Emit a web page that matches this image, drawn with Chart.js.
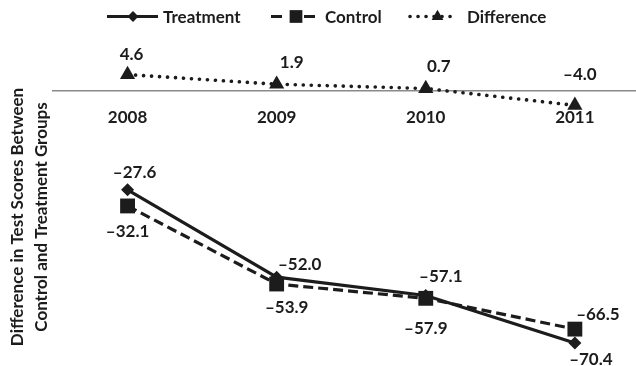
<!DOCTYPE html>
<html>
<head>
<meta charset="utf-8">
<script src="https://cdn.jsdelivr.net/npm/chart.js@4/dist/chart.umd.min.js"></script>
<style>
  html, body { margin: 0; padding: 0; background: #ffffff; }
  #wrap { width: 636px; height: 366px; position: relative; }
</style>
</head>
<body>
<div id="wrap"><canvas id="chart"></canvas></div>
<script>
// Test-score gaps by year
const years = ['2008', '2009', '2010', '2011'];
const treatment = [-27.6, -52.0, -57.1, -70.4];
const control = [-32.1, -53.9, -57.9, -66.5];
const difference = [4.6, 1.9, 0.7, -4.0];
const seriesNames = ['Treatment', 'Control', 'Difference'];
const yTitleLines = ['Difference in Test Scores Between', 'Control and Treatment Groups'];

// Value-label offsets (px) from each point, per series
const labelOffsets = [
  [[7, -17], [23, -13], [15, -19], [16, 16]],
  [[0, 26], [10, 24], [0, 30], [23, -15]],
  [[4, -20], [15, -22], [13, -22], [5, -31]]
];

const INK = '#1c1c1c';
const FONT_FAMILY = 'Lato, "Open Sans", sans-serif';
const FONT_SIZE = 17;
const FONT = { family: FONT_FAMILY, size: FONT_SIZE, weight: 'bold' };
const CSS_FONT = `bold ${FONT_SIZE}px ${FONT_FAMILY}`;

const toPoints = arr => arr.map((v, i) => ({ x: i, y: v }));
const fmt = v => (v < 0 ? '\u2013' : '') + Math.abs(v).toFixed(1);

const styles = [
  { dash: [], width: 3.2, cap: 'butt', pointStyle: 'rectRot', radius: 6.5, legendRadius: 5.5 },
  { dash: [10, 5], width: 3.2, cap: 'butt', pointStyle: 'rect', radius: 10.5, legendRadius: 9 },
  { dash: [0.1, 7.9], width: 3.6, cap: 'round', pointStyle: 'triangle', radius: 8.8, legendRadius: 6.8 }
];

// Value labels next to every point
const valueLabels = {
  id: 'valueLabels',
  afterDatasetsDraw(chart) {
    const ctx = chart.ctx;
    ctx.save();
    ctx.fillStyle = INK;
    ctx.font = CSS_FONT;
    ctx.textAlign = 'center';
    ctx.textBaseline = 'middle';
    chart.data.datasets.forEach((ds, di) => {
      chart.getDatasetMeta(di).data.forEach((pt, i) => {
        const [dx, dy] = labelOffsets[di][i];
        ctx.fillText(fmt(ds.data[i].y), pt.x + dx, pt.y + dy);
      });
    });
    ctx.restore();
  }
};

// Line-and-marker legend along the top, plus the rotated axis title
const lineLegend = {
  id: 'lineLegend',
  afterDraw(chart) {
    const ctx = chart.ctx;
    const y = 16.5;
    const items = [
      { x0: 107, x1: 158, mx: 133, tx: 163, dash: [] },
      { x0: 271, x1: 317, mx: 296, tx: 325, dash: [11, 22] },
      { x0: 410, x1: 458, mx: 437.5, tx: 467, dash: [0.1, 7.9] }
    ];
    ctx.save();
    items.forEach((it, di) => {
      const st = styles[di];
      ctx.strokeStyle = INK;
      ctx.lineWidth = st.width;
      ctx.lineCap = st.cap;
      ctx.setLineDash(it.dash);
      ctx.beginPath();
      ctx.moveTo(it.x0, y);
      ctx.lineTo(it.x1, y);
      ctx.stroke();
      ctx.setLineDash([]);
      ctx.fillStyle = INK;
      Chart.helpers.drawPoint(ctx, { pointStyle: st.pointStyle, radius: st.legendRadius, borderWidth: 0 }, it.mx, y);
      ctx.font = CSS_FONT;
      ctx.textAlign = 'left';
      ctx.textBaseline = 'middle';
      ctx.fillText(seriesNames[di], it.tx, y + 1.5);
    });
    ctx.font = CSS_FONT;
    ctx.textAlign = 'center';
    ctx.textBaseline = 'alphabetic';
    [23, 47].forEach((bx, k) => {
      ctx.save();
      ctx.translate(bx, 217);
      ctx.rotate(-Math.PI / 2);
      ctx.fillText(yTitleLines[k], 0, 0);
      ctx.restore();
    });
    ctx.restore();
  }
};

new Chart(document.getElementById('chart'), {
  type: 'line',
  data: {
    datasets: [
      { label: seriesNames[0], data: toPoints(treatment), order: 2 },
      { label: seriesNames[1], data: toPoints(control), order: 1 },
      { label: seriesNames[2], data: toPoints(difference), order: 3 }
    ].map((ds, di) => Object.assign(ds, {
      borderColor: INK,
      backgroundColor: INK,
      borderWidth: styles[di].width,
      borderDash: styles[di].dash,
      borderCapStyle: styles[di].cap,
      pointStyle: styles[di].pointStyle,
      pointRadius: styles[di].radius,
      pointBorderWidth: 0,
      pointBackgroundColor: INK,
      tension: 0,
      clip: false
    }))
  },
  plugins: [valueLabels, lineLegend],
  options: {
    responsive: true,
    maintainAspectRatio: false,
    animation: false,
    layout: { autoPadding: false, padding: { left: 53, right: 0, top: 40, bottom: 0 } },
    plugins: { legend: { display: false }, tooltip: { enabled: false } },
    scales: {
      x: {
        type: 'linear',
        position: { y: 0 },
        min: -0.5,
        max: 3.41,
        afterBuildTicks: s => { s.ticks = years.map((_, i) => ({ value: i })); },
        afterFit: s => { s.paddingLeft = 0; s.paddingRight = 0; },
        ticks: {
          callback: v => years[v],
          color: INK,
          font: FONT,
          padding: 16,
          autoSkip: false,
          maxRotation: 0
        },
        grid: { display: false, drawTicks: false },
        border: { display: true, color: '#8a8a8a', width: 1.5 }
      },
      y: {
        display: false,
        min: -76.8,
        max: 14.25
      }
    }
  }
});
</script>
</body>
</html>
